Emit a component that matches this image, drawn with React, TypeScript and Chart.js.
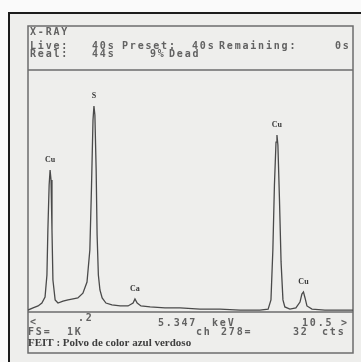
import React, { useEffect, useRef } from 'react';
import { Chart, registerables } from 'chart.js';

Chart.register(...registerables);

// Spectrum: energy (keV) and counts (full scale 1K)
const energies = [
  0.20, 0.36, 0.52, 0.64, 0.74, 0.80, 0.83, 0.87, 0.90, 0.93, 0.96, 0.99, 1.06, 1.15, 1.31, 1.47,
  1.63, 1.78, 1.94, 2.07, 2.16, 2.21, 2.26, 2.29, 2.32, 2.36, 2.39, 2.43, 2.48, 2.55, 2.67, 2.86,
  3.12, 3.37, 3.53, 3.59, 3.66, 3.78, 4.07, 4.54, 5.02, 5.65, 6.28, 6.92, 7.55, 7.81, 7.90, 7.96,
  8.01, 8.06, 8.09, 8.12, 8.17, 8.22, 8.28, 8.34, 8.50, 8.69, 8.82, 8.88, 8.93, 8.98, 9.04, 9.20,
  9.61, 10.09, 10.50,
];
const counts = [
  8, 17, 25, 37, 62, 153, 339, 525, 587, 545, 339, 132, 50, 37, 45, 50,
  54, 58, 78, 124, 256, 504, 793, 851, 814, 587, 318, 153, 91, 58, 37, 29,
  25, 25, 37, 54, 37, 25, 21, 17, 17, 12, 12, 8, 8, 12, 50, 256,
  525, 702, 731, 690, 463, 207, 50, 21, 12, 17, 41, 74, 83, 58, 25, 12,
  8, 8, 8,
];

const peakLabels = ['Cu', 'S', 'Ca', 'Cu', 'Cu'];
const peakEnergies = [0.90, 2.29, 3.59, 8.09, 8.93];
const peakCounts = [587, 851, 54, 731, 83];

const xMin = 0.2;
const xMax = 10.5;
const fullScale = 1000;

const headerTitle = 'X-RAY';
const liveRow = ['Live:', '40s', 'Preset:', '40s', 'Remaining:', '0s'];
const realRow = ['Real:', '44s', '9%', 'Dead'];
const footRow1 = ['<', '.2', '5.347', 'keV', '10.5 >'];
const footRow2 = ['FS=', '1K', 'ch', '278=', '32', 'cts'];
const sampleLabel = 'FEIT : Polvo de color azul verdoso';

const MONO = 'bold 10px "DejaVu Sans Mono", monospace';
const TEXT = '#626262';

const decor = {
  id: 'decor',
  beforeDraw(chart: any) {
    const ctx = chart.ctx as CanvasRenderingContext2D;
    const { width, height } = chart;
    const a = chart.chartArea;
    ctx.save();
    ctx.fillStyle = '#fafafa';
    ctx.fillRect(0, 0, width, height);
    ctx.fillStyle = '#eeeeec';
    ctx.fillRect(8, 12, width - 8, height - 12);
    ctx.strokeStyle = '#1c1c1c';
    ctx.lineWidth = 2;
    ctx.beginPath();
    ctx.moveTo(9, height);
    ctx.lineTo(9, 13);
    ctx.lineTo(width, 13);
    ctx.stroke();

    const boxTop = a.top - 44;
    const boxBottom = a.bottom + 41;
    ctx.strokeStyle = '#6c6c6c';
    ctx.lineWidth = 1.5;
    ctx.strokeRect(a.left, boxTop, a.right - a.left, boxBottom - boxTop);
    ctx.beginPath();
    ctx.moveTo(a.left, a.top);
    ctx.lineTo(a.right, a.top);
    ctx.moveTo(a.left, a.bottom);
    ctx.lineTo(a.right, a.bottom);
    ctx.stroke();
    ctx.restore();
  },
  afterDraw(chart: any) {
    const ctx = chart.ctx as CanvasRenderingContext2D;
    const a = chart.chartArea;
    const L = a.left;
    ctx.save();
    ctx.fillStyle = TEXT;
    ctx.font = MONO;
    (ctx as any).letterSpacing = '1.8px';
    ctx.textBaseline = 'middle';
    ctx.textAlign = 'left';
    const put = (t: string, dx: number, y: number) => ctx.fillText(t, L + dx, y);

    put(headerTitle, 2, a.top - 38);
    const liveX = [2, 64, 94, 164, 191, 307];
    liveRow.forEach((t, i) => put(t, liveX[i], a.top - 24));
    const realX = [2, 64, 122, 141];
    realRow.forEach((t, i) => put(t, realX[i], a.top - 16));

    const f1X = [2, 50, 130, 184, 274];
    const f1Y = [a.bottom + 10, a.bottom + 6, a.bottom + 11, a.bottom + 11, a.bottom + 11];
    footRow1.forEach((t, i) => put(t, f1X[i], f1Y[i]));
    const f2X = [0, 39, 168, 193, 265, 294];
    footRow2.forEach((t, i) => put(t, f2X[i], a.bottom + 20));

    (ctx as any).letterSpacing = '0px';
    ctx.font = 'bold 11px "Liberation Serif", serif';
    ctx.fillStyle = '#3e3e3e';
    ctx.fillText(sampleLabel, L, a.bottom + 31);

    const xs = chart.scales.x;
    const ys = chart.scales.y;
    ctx.font = 'bold 8px "Liberation Serif", serif';
    ctx.textAlign = 'center';
    ctx.textBaseline = 'bottom';
    ctx.fillStyle = '#3a3a3a';
    peakLabels.forEach((t, i) => {
      ctx.fillText(t, xs.getPixelForValue(peakEnergies[i]), ys.getPixelForValue(peakCounts[i]) - 6);
    });
    ctx.restore();
  },
};

export default function App() {
  const ref = useRef<HTMLCanvasElement>(null);
  useEffect(() => {
    if (!ref.current) return;
    const chart = new Chart(ref.current, {
      type: 'line',
      data: {
        datasets: [
          {
            data: energies.map((e, i) => ({ x: e, y: counts[i] })),
            borderColor: '#4a4a4a',
            borderWidth: 1.3,
            pointRadius: 0,
            tension: 0,
            fill: false,
          },
        ],
      },
      options: {
        responsive: false,
        animation: false,
        devicePixelRatio: 1,
        layout: { padding: { left: 28, right: 8, top: 70, bottom: 50 } },
        plugins: { legend: { display: false }, tooltip: { enabled: false } },
        scales: {
          x: { type: 'linear', min: xMin, max: xMax, display: false },
          y: { type: 'linear', min: 0, max: fullScale, display: false },
        },
      },
      plugins: [decor],
    });
    return () => chart.destroy();
  }, []);
  return (
    <div style={{ position: 'absolute', left: 0, top: 0, width: 361, height: 362 }}>
      <canvas ref={ref} width={361} height={362} />
    </div>
  );
}
